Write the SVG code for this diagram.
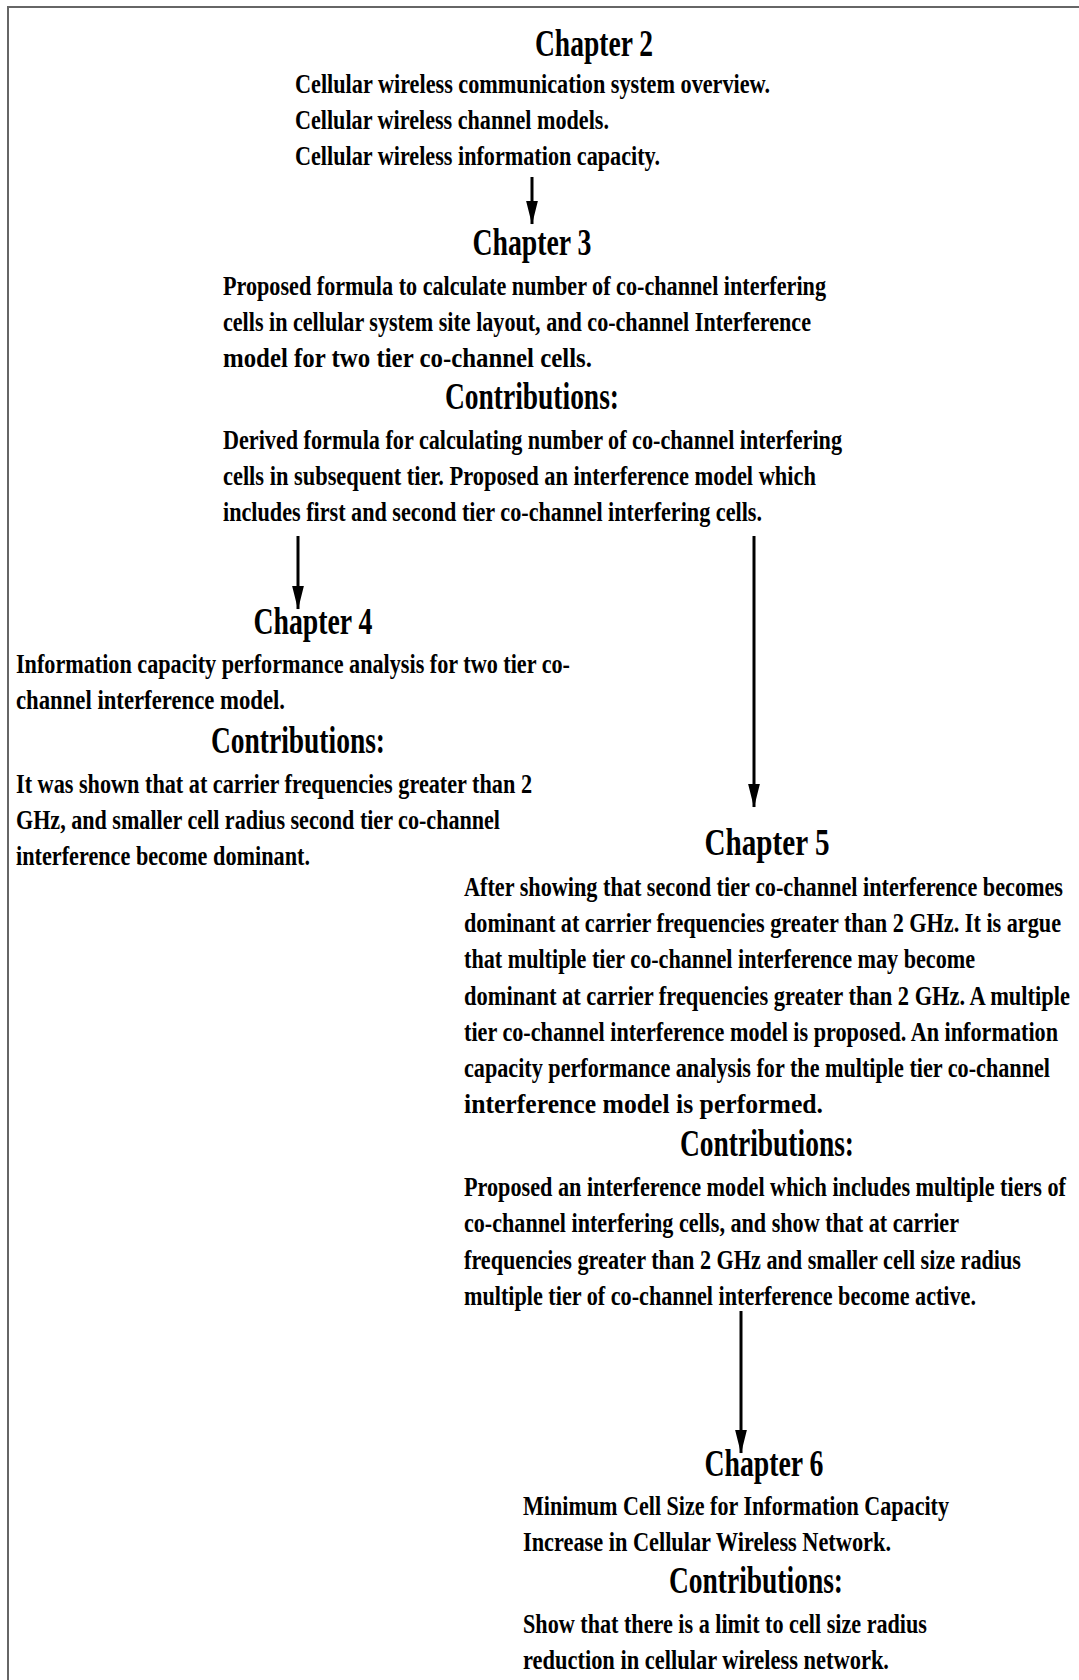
<svg xmlns="http://www.w3.org/2000/svg" width="1079" height="1680" viewBox="0 0 1079 1680">
<style>
.b{font-family:"Liberation Serif","Times New Roman",serif;font-weight:bold;font-size:28px;fill:#000}
.h{font-family:"Liberation Serif","Times New Roman",serif;font-weight:bold;font-size:38px;fill:#000;text-anchor:middle}
.c{stroke:#000;stroke-width:3;fill:none}
</style>
<defs>
<marker id="ah" markerWidth="8" markerHeight="4" refX="7.8" refY="2" orient="auto" markerUnits="strokeWidth">
<path d="M0,0 L8,2 L0,4 Z" fill="#000"/>
</marker>
</defs>
<rect width="1079" height="1680" fill="#fff"/>
<path d="M8,1680 V7 H1079" stroke="#666" stroke-width="2" fill="none"/>
<g id="connectors">
<line class="c" x1="532" y1="177" x2="532" y2="224" marker-end="url(#ah)"/>
<line class="c" x1="298" y1="536" x2="298" y2="609" marker-end="url(#ah)"/>
<line class="c" x1="754" y1="536" x2="754" y2="807" marker-end="url(#ah)"/>
<line class="c" x1="741" y1="1311" x2="741" y2="1453" marker-end="url(#ah)"/>
</g>
<g id="ch2" transform="scale(0.75,1)">
<text class="h" x="792" y="56" textLength="157.33" lengthAdjust="spacingAndGlyphs">Chapter 2</text>
<text class="b" x="393.33" y="93" textLength="633.33" lengthAdjust="spacingAndGlyphs">Cellular wireless communication system overview.</text>
<text class="b" x="393.33" y="129" textLength="418.67" lengthAdjust="spacingAndGlyphs">Cellular wireless channel models.</text>
<text class="b" x="393.33" y="165" textLength="486.67" lengthAdjust="spacingAndGlyphs">Cellular wireless information capacity.</text>
</g>
<g id="ch3" transform="scale(0.75,1)">
<text class="h" x="709.33" y="255" textLength="158.67" lengthAdjust="spacingAndGlyphs">Chapter 3</text>
<text class="b" x="297.33" y="295" textLength="804" lengthAdjust="spacingAndGlyphs">Proposed formula to calculate number of co-channel interfering</text>
<text class="b" x="297.33" y="331" textLength="784" lengthAdjust="spacingAndGlyphs">cells in cellular system site layout, and co-channel Interference</text>
<text class="b" x="297.33" y="367" textLength="492" lengthAdjust="spacingAndGlyphs">model for two tier co-channel cells.</text>
<text class="h" x="709.33" y="409" textLength="232" lengthAdjust="spacingAndGlyphs">Contributions:</text>
<text class="b" x="297.33" y="449" textLength="825.33" lengthAdjust="spacingAndGlyphs">Derived formula for calculating number of co-channel interfering</text>
<text class="b" x="297.33" y="485" textLength="790.67" lengthAdjust="spacingAndGlyphs">cells in subsequent tier. Proposed an interference  model which</text>
<text class="b" x="297.33" y="521" textLength="718.67" lengthAdjust="spacingAndGlyphs">includes first and second tier co-channel interfering cells.</text>
</g>
<g id="ch4" transform="scale(0.75,1)">
<text class="h" x="417.33" y="634" textLength="158.67" lengthAdjust="spacingAndGlyphs">Chapter 4</text>
<text class="b" x="21.33" y="673" textLength="738.67" lengthAdjust="spacingAndGlyphs">Information capacity performance analysis for two tier co-</text>
<text class="b" x="21.33" y="709" textLength="358.67" lengthAdjust="spacingAndGlyphs">channel interference model.</text>
<text class="h" x="397.33" y="753" textLength="232" lengthAdjust="spacingAndGlyphs">Contributions:</text>
<text class="b" x="21.33" y="793" textLength="688" lengthAdjust="spacingAndGlyphs">It was shown that at carrier frequencies greater than 2</text>
<text class="b" x="21.33" y="829" textLength="645.33" lengthAdjust="spacingAndGlyphs">GHz, and smaller cell radius second tier co-channel</text>
<text class="b" x="21.33" y="865" textLength="392" lengthAdjust="spacingAndGlyphs">interference become dominant.</text>
</g>
<g id="ch5" transform="scale(0.75,1)">
<text class="h" x="1022.67" y="855" textLength="166.67" lengthAdjust="spacingAndGlyphs">Chapter  5</text>
<text class="b" x="618.67" y="896" textLength="798.67" lengthAdjust="spacingAndGlyphs">After showing that second tier co-channel interference becomes</text>
<text class="b" x="618.67" y="932" textLength="796" lengthAdjust="spacingAndGlyphs">dominant at carrier frequencies greater than 2 GHz. It is argue</text>
<text class="b" x="618.67" y="968" textLength="681.33" lengthAdjust="spacingAndGlyphs">that multiple tier co-channel interference may become</text>
<text class="b" x="618.67" y="1005" textLength="808" lengthAdjust="spacingAndGlyphs">dominant at carrier frequencies greater than 2 GHz. A  multiple</text>
<text class="b" x="618.67" y="1041" textLength="792" lengthAdjust="spacingAndGlyphs">tier co-channel interference model is proposed. An information</text>
<text class="b" x="618.67" y="1077" textLength="781.33" lengthAdjust="spacingAndGlyphs">capacity performance analysis for the multiple tier co-channel</text>
<text class="b" x="618.67" y="1113" textLength="478.67" lengthAdjust="spacingAndGlyphs">interference model is performed.</text>
<text class="h" x="1022.67" y="1156" textLength="232" lengthAdjust="spacingAndGlyphs">Contributions:</text>
<text class="b" x="618.67" y="1196" textLength="802.67" lengthAdjust="spacingAndGlyphs">Proposed an interference model which includes multiple tiers of</text>
<text class="b" x="618.67" y="1232" textLength="660" lengthAdjust="spacingAndGlyphs">co-channel interfering cells, and show that at carrier</text>
<text class="b" x="618.67" y="1269" textLength="742.67" lengthAdjust="spacingAndGlyphs">frequencies greater than 2 GHz and smaller cell size radius</text>
<text class="b" x="618.67" y="1305" textLength="682.67" lengthAdjust="spacingAndGlyphs">multiple tier of co-channel interference become active.</text>
</g>
<g id="ch6" transform="scale(0.75,1)">
<text class="h" x="1018.67" y="1476" textLength="158.67" lengthAdjust="spacingAndGlyphs">Chapter 6</text>
<text class="b" x="697.33" y="1515" textLength="568" lengthAdjust="spacingAndGlyphs">Minimum Cell Size for Information Capacity</text>
<text class="b" x="697.33" y="1551" textLength="490.67" lengthAdjust="spacingAndGlyphs">Increase in Cellular Wireless Network.</text>
<text class="h" x="1008" y="1593" textLength="232" lengthAdjust="spacingAndGlyphs">Contributions:</text>
<text class="b" x="697.33" y="1633" textLength="538.67" lengthAdjust="spacingAndGlyphs">Show that there is a limit to cell size radius</text>
<text class="b" x="697.33" y="1669" textLength="488" lengthAdjust="spacingAndGlyphs">reduction in cellular wireless network.</text>
</g>
</svg>
